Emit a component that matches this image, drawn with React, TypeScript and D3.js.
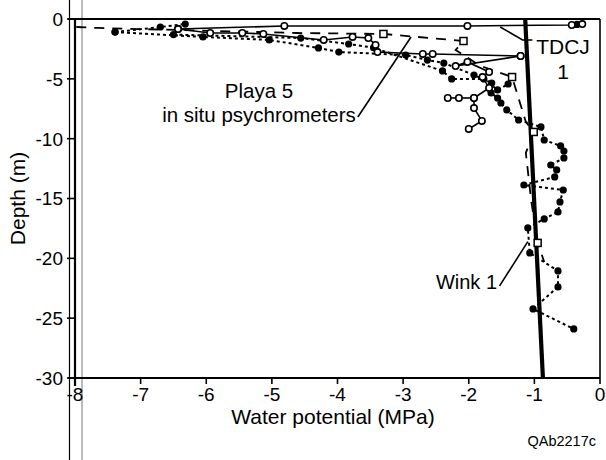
import React from "react";
import * as d3 from "d3";

// Axis ticks
const xTicks = [-8, -7, -6, -5, -4, -3, -2, -1, 0];
const yTicks = [0, -5, -10, -15, -20, -25, -30];

// [water potential (MPa), depth (m)]
const tdcjProfile = [
  [-6.43, -0.84], [-4.81, -0.58], [-2.02, -0.58], [-0.43, -0.5], [-0.27, -0.42],
];
const tdcjDot = [[-0.35, -0.45]];

// Playa 5 in situ psychrometers (solid, open circles)
const psyA = [
  [-6.43, -0.84], [-5.94, -1.17], [-5.45, -1.17], [-5.13, -1.25], [-4.21, -1.75],
  [-3.77, -1.5], [-3.53, -1.59], [-3.42, -2.17], [-3.39, -2.76], [-2.7, -2.92],
  [-2.55, -2.92], [-1.21, -3.09],
];
const psyB = [
  [-1.21, -3.09], [-2.2, -3.93], [-2.02, -3.59], [-1.69, -4.43], [-1.79, -4.85],
  [-1.69, -5.76], [-1.92, -6.6], [-1.92, -7.44], [-1.8, -8.52], [-2.0, -9.19],
];
const psyC = [[-2.32, -6.6], [-2.15, -6.6], [-1.92, -6.6]];

// Dotted profiles with filled dots
const dotA = [
  [-7.39, -1.09], [-6.05, -1.5], [-5.04, -1.75], [-4.29, -2.42], [-3.98, -2.76],
  [-2.96, -3.01], [-2.63, -3.43], [-2.38, -3.68], [-1.92, -4.68], [-1.65, -5.35],
  [-1.66, -6.18], [-1.56, -6.6], [-1.51, -7.02], [-1.42, -7.6], [-1.24, -8.44],
  [-0.9, -9.02], [-0.85, -10.11], [-0.6, -10.61], [-0.55, -11.03], [-0.55, -11.61],
  [-0.75, -12.2], [-0.66, -12.61], [-0.69, -13.2], [-1.16, -13.87], [-0.56, -14.29],
  [-0.61, -15.29], [-0.64, -16.12], [-0.85, -16.71], [-1.1, -17.46], [-1.07, -19.55],
  [-0.64, -21.05], [-0.64, -22.39], [-1.02, -24.23], [-0.4, -25.9],
];
const dotB = [[-7.39, -1.09], [-6.7, -0.67], [-6.32, -0.42]];
const dotC = [
  [-6.5, -1.3], [-4.56, -1.59], [-3.83, -2.09], [-3.45, -2.4], [-2.4, -4.34],
  [-2.26, -5.01], [-1.77, -5.01], [-1.56, -5.93], [-1.4, -5.43],
];

// Long-dashed profile with open squares
const dashedProfile = [
  [-7.98, -0.67], [-7.65, -0.75], [-4.62, -1.17], [-3.3, -1.25], [-2.08, -1.84],
  [-2.2, -2.59], [-1.82, -3.93], [-1.34, -4.85], [-1.13, -8.6], [-1.01, -9.44],
  [-1.13, -11.19], [-1.05, -15.12], [-0.95, -18.71], [-0.85, -20.3],
];
const squareIdx = [3, 4, 7, 9, 12];

// Heavy reference line
const heavyLine = [[-1.14, 0], [-0.87, -30]];

// Label leader lines
const playaLeader = [[-3.69, -8.19], [-2.88, -1.5]];
const winkLeader = [[-1.53, -22.3], [-1.1, -18.6]];
const tdcjLeader = [[-1.03, -1.75], [-1.18, -1.75], [-1.52, -0.67]];

const W = 606;
const H = 460;
const FONT = "Liberation Sans, Arial, Helvetica, sans-serif";

const x = d3.scaleLinear().domain([-8, 0]).range([75, 600]);
const y = d3.scaleLinear().domain([0, -30]).range([19, 378]);
const line = d3.line<number[]>().x((d) => x(d[0])).y((d) => y(d[1]));

function OpenCircles({ data }: { data: number[][] }) {
  return (
    <g>
      {data.map((d, i) => (
        <circle key={i} cx={x(d[0])} cy={y(d[1])} r={3.2} fill="#fff" stroke="#000" strokeWidth={1.6} />
      ))}
    </g>
  );
}

function Dots({ data }: { data: number[][] }) {
  return (
    <g>
      {data.map((d, i) => (
        <circle key={i} cx={x(d[0])} cy={y(d[1])} r={3.6} fill="#000" />
      ))}
    </g>
  );
}

export default function App() {
  const solid = { fill: "none", stroke: "#000", strokeWidth: 1.6 };
  const dotted = { fill: "none", stroke: "#000", strokeWidth: 2, strokeDasharray: "3,3" };
  const dashed = { fill: "none", stroke: "#000", strokeWidth: 1.8, strokeDasharray: "10,8" };
  return (
    <svg
      width={W}
      height={H}
      style={{ position: "absolute", left: 0, top: 0, background: "#fff" }}
      fontFamily={FONT}
    >
      <rect width={W} height={H} fill="#fff" />
      {/* page edge lines on the left */}
      <line x1={69.5} y1={0} x2={69.5} y2={H} stroke="#000" strokeWidth={1.2} />
      <line x1={82} y1={0} x2={82} y2={H} stroke="#777" strokeWidth={1} />

      {/* frame */}
      <line x1={68} y1={y(0)} x2={x(0)} y2={y(0)} stroke="#000" strokeWidth={2} />
      <line x1={68} y1={y(-30)} x2={x(0)} y2={y(-30)} stroke="#000" strokeWidth={2} />
      <line x1={x(-8)} y1={y(0)} x2={x(-8)} y2={y(-30) + 8} stroke="#000" strokeWidth={2.2} />
      <line x1={x(0)} y1={y(0)} x2={x(0)} y2={y(-30)} stroke="#000" strokeWidth={1.6} />

      {/* y ticks */}
      {yTicks.map((t) => (
        <g key={t}>
          <line x1={x(-8) - 8} x2={x(-8)} y1={y(t)} y2={y(t)} stroke="#000" strokeWidth={1.6} />
          <text x={63} y={y(t)} dy="0.36em" textAnchor="end" fontSize={19}>
            {t}
          </text>
        </g>
      ))}
      {/* x ticks */}
      {xTicks.map((t) => (
        <g key={t}>
          <line x1={x(t)} x2={x(t)} y1={y(-30)} y2={y(-30) + 6} stroke="#000" strokeWidth={1.6} />
          <text x={x(t)} y={401} textAnchor="middle" fontSize={19}>
            {t}
          </text>
        </g>
      ))}

      <text x={333} y={424} textAnchor="middle" fontSize={21}>
        Water potential (MPa)
      </text>
      <text transform={`translate(25,${(y(0) + y(-30)) / 2}) rotate(-90)`} textAnchor="middle" fontSize={21}>
        Depth (m)
      </text>
      <text x={596} y={446} textAnchor="end" fontSize={14.5}>
        QAb2217c
      </text>

      {/* heavy line */}
      <path d={line(heavyLine) || ""} fill="none" stroke="#000" strokeWidth={4.2} />

      {/* profiles */}
      <path d={line(dashedProfile) || ""} {...dashed} />
      <path d={line(dotA) || ""} {...dotted} />
      <path d={line(dotB) || ""} {...dotted} />
      <path d={line(dotC) || ""} {...dotted} />
      <path d={line(tdcjProfile) || ""} {...solid} />
      <path d={line(psyA) || ""} {...solid} />
      <path d={line(psyB) || ""} {...solid} />
      <path d={line(psyC) || ""} {...solid} />

      <Dots data={dotA} />
      <Dots data={dotB} />
      <Dots data={dotC} />
      <Dots data={tdcjDot} />
      <OpenCircles data={tdcjProfile} />
      <OpenCircles data={psyA} />
      <OpenCircles data={psyB} />
      <OpenCircles data={psyC} />
      {squareIdx.map((i) => (
        <rect
          key={i}
          x={x(dashedProfile[i][0]) - 3.5}
          y={y(dashedProfile[i][1]) - 3.5}
          width={7}
          height={7}
          fill="#fff"
          stroke="#000"
          strokeWidth={1.5}
        />
      ))}

      {/* leaders and labels */}
      <path d={line(playaLeader) || ""} fill="none" stroke="#000" strokeWidth={1.6} />
      <path d={line(winkLeader) || ""} fill="none" stroke="#000" strokeWidth={1.6} />
      <path d={line(tdcjLeader) || ""} fill="none" stroke="#000" strokeWidth={1.6} />

      <text x={259} y={98} textAnchor="middle" fontSize={20.5}>
        Playa 5
      </text>
      <text x={259} y={122} textAnchor="middle" fontSize={20.5}>
        in situ psychrometers
      </text>
      <text x={563} y={54} textAnchor="middle" fontSize={21}>
        TDCJ
      </text>
      <text x={563} y={79} textAnchor="middle" fontSize={21}>
        1
      </text>
      <text x={497} y={289} textAnchor="end" fontSize={20}>
        Wink 1
      </text>
    </svg>
  );
}
